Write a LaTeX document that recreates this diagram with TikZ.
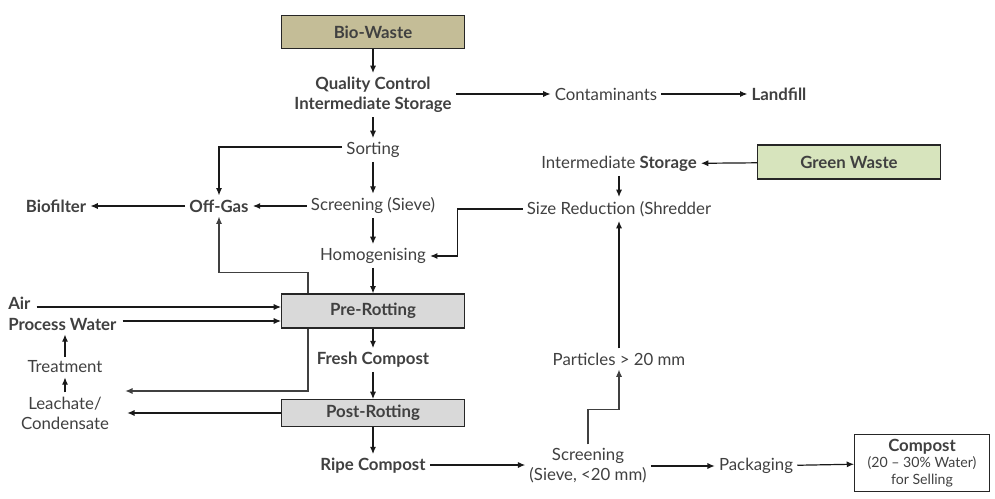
\documentclass[tikz,border=0pt]{standalone}
\usepackage{fontspec}
\setmainfont{Lato}
\usetikzlibrary{arrows.meta,calc}
\definecolor{txt}{HTML}{404040}
\definecolor{biow}{HTML}{C4BD97}
\definecolor{greenw}{HTML}{D7E4BD}
\definecolor{rot}{HTML}{D9D9D9}
\begin{document}
\begin{tikzpicture}[x=0.75pt,y=-0.75pt,
 every node/.style={font=\fontsize{12.6}{15}\selectfont, text=txt, inner sep=3pt, align=center},
 bold/.style={font=\fontsize{12.6}{15}\selectfont\bfseries},
 box/.style={draw=black!85, line width=0.9pt, minimum width=137pt, minimum height=25pt, font=\fontsize{12.6}{15}\selectfont\bfseries},
 arr/.style={-{Latex[length=5.5pt,width=4.6pt]}, line width=0.9pt, draw=black!90},
 ln/.style={-{Latex[length=5.5pt,width=4.6pt]}, line width=0.9pt, draw=black!75}]
\useasboundingbox (0,0) rectangle (995,499);

\node[box, fill=biow] (bio) at (373,32) {Bio-Waste};
\node[bold] (qc) at (373,95) {Quality Control\\Intermediate Storage};
\node (cont) at (606,94) {Contaminants};
\node[bold] (landfill) at (779,94) {Landfill};
\node (sort) at (373,150) {Sorting};
\node (scr1) at (373,206) {Screening (Sieve)};
\node[bold] (offgas) at (219,206) {Off-Gas};
\node[bold] (biof) at (56,206) {Biofilter};
\node (homo) at (373,256) {Homogenising};
\node[box, fill=rot, minimum height=25.5pt] (pre) at (373,311) {Pre-Rotting};
\node[bold, anchor=west] (air) at (4,303) {Air};
\node[bold, anchor=west] (pw) at (4,324) {Process Water};
\node (treat) at (65,367) {Treatment};
\node (leach) at (65,413) {Leachate/\\Condensate};
\node[bold] (fresh) at (373,360) {Fresh Compost};
\node[box, fill=rot, minimum height=20pt] (post) at (373,413) {Post-Rotting};
\node[bold] (ripe) at (373,466) {Ripe Compost};
\node (scr2) at (588,466) {Screening\\(Sieve, <20 mm)};
\node (pack) at (756,466) {Packaging};
\node[draw=black!85, line width=0.9pt, minimum width=101pt, minimum height=43pt, inner sep=1pt, font=\fontsize{12.6}{12.5}\selectfont] (comp) at (922,463) {{\bfseries Compost}\\{\fontsize{10.6}{12.5}\selectfont (20 – 30\% Water)}\\{\fontsize{10.6}{12.5}\selectfont for Selling}};
\node (part) at (619,359) {Particles > 20 mm};
\node (size) at (619,209) {Size Reduction (Shredder};
\node (istor) at (619,164) {Intermediate \textbf{Storage}};
\node[box, fill=greenw, minimum height=25.5pt] (green) at (849,162) {Green Waste};

\draw[arr] (bio) -- (qc);
\draw[arr] (qc.east |- cont.west) -- (cont.west);
\draw[arr] (cont) -- (landfill);
\draw[arr] (qc) -- (sort);
\draw[arr] ($(sort.west)+(0,-3)$) -| (offgas.north);
\draw[arr] (sort) -- (scr1);
\draw[arr] (scr1) -- (offgas);
\draw[arr] (offgas) -- (biof);
\draw[arr] (scr1) -- (homo);
\draw[arr] (homo) -- (pre);
\draw[ln] ($(pre.north west)+(27,0)$) -- ++(0,-21) -| (offgas.south);
\draw[ln] ($(pre.south west)+(27,0)$) |- ($(leach.east)+(12,-22)$);
\draw[arr] ($(air.east)+(2,4)$) -- ($(pre.west)+(0,-4)$);
\draw[arr] ($(pw.east)+(2,-3)$) -- ($(pre.west)+(0,10)$);
\draw[arr] (treat.north) -- (treat.north |- pw.south);
\draw[arr] (leach.north) -- (treat.south);
\draw[arr] (pre) -- (fresh);
\draw[arr] (fresh) -- (post);
\draw[arr] (post.west) -- ($(leach.east |- post.west)+(14,0)$);
\draw[arr] (post) -- (ripe);
\draw[arr] ($(ripe.east)+(0,-1)$) -- ($(scr2.west)+(0,-1)$);
\draw[ln] (scr2.north) -- ++(0,-35) -| (part.south);
\draw[arr] (part) -- (size);
\draw[arr] (size.west) -- ++(-65,0) |- (homo.east);
\draw[arr] (istor) -- (size);
\draw[arr] (green) -- (istor);
\draw[arr] (scr2) -- (pack);
\draw[arr] (pack) -- (comp);
\end{tikzpicture}
\end{document}
